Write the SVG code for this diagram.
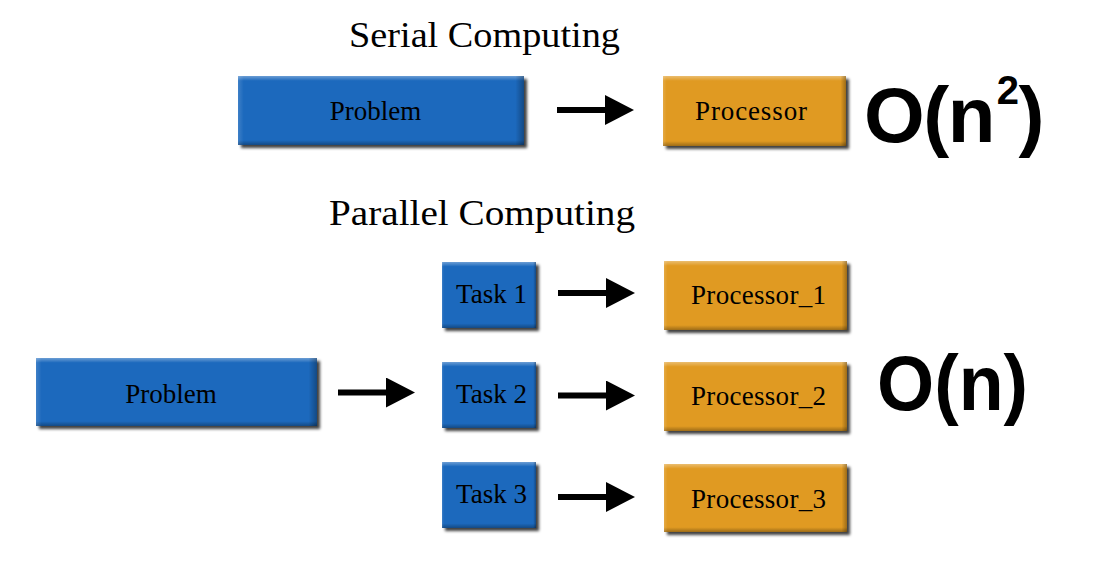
<svg xmlns="http://www.w3.org/2000/svg" width="1111" height="568" viewBox="0 0 1111 568">
  <defs>
    <filter id="shadow" x="-10%" y="-10%" width="125%" height="135%">
      <feDropShadow dx="3" dy="3" stdDeviation="1.6" flood-color="#000" flood-opacity="0.75"/>
    </filter>
    <linearGradient id="bevelV" x1="0" y1="0" x2="0" y2="1">
      <stop offset="0" stop-color="#fff" stop-opacity="0.35"/>
      <stop offset="0.07" stop-color="#fff" stop-opacity="0"/>
      <stop offset="0.93" stop-color="#000" stop-opacity="0"/>
      <stop offset="1" stop-color="#000" stop-opacity="0.3"/>
    </linearGradient>
    <linearGradient id="bevelH" x1="0" y1="0" x2="1" y2="0">
      <stop offset="0" stop-color="#fff" stop-opacity="0.15"/>
      <stop offset="0.02" stop-color="#fff" stop-opacity="0"/>
      <stop offset="0.97" stop-color="#000" stop-opacity="0"/>
      <stop offset="1" stop-color="#000" stop-opacity="0.3"/>
    </linearGradient>
    <marker id="head" markerUnits="userSpaceOnUse" markerWidth="30" markerHeight="30" refX="0" refY="15" orient="auto">
      <path d="M0,0 L29,15 L0,30 Z" fill="#000"/>
    </marker>
  </defs>
  <style>
    .blue { fill: #1f69bd; }
    .orange { fill: #e09a24; }
    .bv { fill: url(#bevelV); }
    .bh { fill: url(#bevelH); }
    .lbl { font-family: "Liberation Serif", "DejaVu Serif", serif; font-size: 27px; fill: #000; text-anchor: middle; }
    .title { font-family: "Liberation Serif", "DejaVu Serif", serif; font-size: 35px; fill: #000; text-anchor: middle; }
    .big { font-family: "Liberation Sans", "Open Sans", sans-serif; font-weight: bold; fill: #000; }
    .arrow { stroke: #000; stroke-width: 6; fill: none; marker-end: url(#head); }
  </style>

  <text class="title" x="484.5" y="47" textLength="271" lengthAdjust="spacingAndGlyphs">Serial Computing</text>
  <text class="title" x="482" y="225" textLength="306" lengthAdjust="spacingAndGlyphs">Parallel Computing</text>

  <g id="problem-serial">
    <g filter="url(#shadow)"><rect class="blue" x="238" y="76" width="286" height="69"/></g>
    <rect class="bv" x="238" y="76" width="286" height="69"/>
    <rect class="bh" x="238" y="76" width="286" height="69"/>
    <text class="lbl" x="375.5" y="120">Problem</text>
  </g>
  <g id="processor-serial">
    <g filter="url(#shadow)"><rect class="orange" x="663" y="76" width="183" height="70"/></g>
    <rect class="bv" x="663" y="76" width="183" height="70"/>
    <rect class="bh" x="663" y="76" width="183" height="70"/>
    <text class="lbl" x="751" y="120" textLength="112">Processor</text>
  </g>
  <g id="complexity-serial">
    <text class="big" x="864" y="142" font-size="78" letter-spacing="-1.5">O(n<tspan font-size="40" dx="3" dy="-38">2</tspan><tspan dx="1" dy="38">)</tspan></text>
  </g>

  <g id="problem-parallel">
    <g filter="url(#shadow)"><rect class="blue" x="36" y="358" width="281" height="68"/></g>
    <rect class="bv" x="36" y="358" width="281" height="68"/>
    <rect class="bh" x="36" y="358" width="281" height="68"/>
    <text class="lbl" x="171" y="403">Problem</text>
  </g>

  <g id="task1">
    <g filter="url(#shadow)"><rect class="blue" x="442" y="262" width="94" height="66"/></g>
    <rect class="bv" x="442" y="262" width="94" height="66"/>
    <rect class="bh" x="442" y="262" width="94" height="66"/>
    <text class="lbl" x="491.5" y="303">Task 1</text>
  </g>
  <g id="task2">
    <g filter="url(#shadow)"><rect class="blue" x="442" y="362" width="94" height="66"/></g>
    <rect class="bv" x="442" y="362" width="94" height="66"/>
    <rect class="bh" x="442" y="362" width="94" height="66"/>
    <text class="lbl" x="491.5" y="403">Task 2</text>
  </g>
  <g id="task3">
    <g filter="url(#shadow)"><rect class="blue" x="442" y="462" width="94" height="66"/></g>
    <rect class="bv" x="442" y="462" width="94" height="66"/>
    <rect class="bh" x="442" y="462" width="94" height="66"/>
    <text class="lbl" x="491.5" y="503">Task 3</text>
  </g>

  <g id="processor1">
    <g filter="url(#shadow)"><rect class="orange" x="664" y="261" width="183" height="69"/></g>
    <rect class="bv" x="664" y="261" width="183" height="69"/>
    <rect class="bh" x="664" y="261" width="183" height="69"/>
    <text class="lbl" x="758.5" y="304" textLength="135">Processor_1</text>
  </g>
  <g id="processor2">
    <g filter="url(#shadow)"><rect class="orange" x="664" y="362" width="183" height="69"/></g>
    <rect class="bv" x="664" y="362" width="183" height="69"/>
    <rect class="bh" x="664" y="362" width="183" height="69"/>
    <text class="lbl" x="758.5" y="405" textLength="135">Processor_2</text>
  </g>
  <g id="processor3">
    <g filter="url(#shadow)"><rect class="orange" x="664" y="464" width="183" height="68"/></g>
    <rect class="bv" x="664" y="464" width="183" height="68"/>
    <rect class="bh" x="664" y="464" width="183" height="68"/>
    <text class="lbl" x="758.5" y="508" textLength="135">Processor_3</text>
  </g>

  <g id="complexity-parallel">
    <text class="big" x="877" y="410" font-size="77" textLength="151" lengthAdjust="spacingAndGlyphs">O(n)</text>
  </g>

  <g id="connectors">
    <line class="arrow" x1="557" y1="110" x2="605" y2="110"/>
    <line class="arrow" x1="338" y1="392.5" x2="386" y2="392.5"/>
    <line class="arrow" x1="558" y1="293" x2="606" y2="293"/>
    <line class="arrow" x1="558" y1="395.5" x2="606" y2="395.5"/>
    <line class="arrow" x1="558" y1="497" x2="606" y2="497"/>
  </g>
</svg>
